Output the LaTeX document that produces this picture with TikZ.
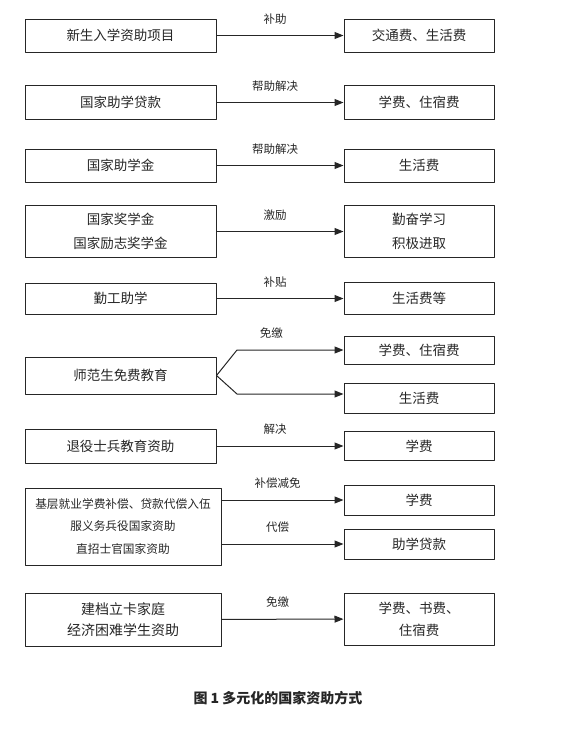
\documentclass[tikz,border=0pt]{standalone}
\usepackage{fontspec}
\setmainfont{Noto Sans CJK SC}
\usepackage{xcolor}
\usepackage{tikz}
\usetikzlibrary{arrows.meta,positioning}
\definecolor{ink}{HTML}{262626}
\tikzset{
    every picture/.style={line cap=round,line join=round},
    srcbox/.style={draw=ink,line width=1pt,minimum width=191pt,inner sep=2pt,
      text=ink,font=\fontsize{13.5}{24}\selectfont,align=center},
    widebox/.style={srcbox,minimum width=196pt},
    dstbox/.style={draw=ink,line width=1pt,minimum width=150pt,inner sep=2pt,
      text=ink,font=\fontsize{13.5}{24}\selectfont,align=center},
    flowarrow/.style={-{Triangle[length=9pt,width=7pt]},draw=ink,line width=1pt},
    edgelabel/.style={above=10pt,xshift=-5pt,inner sep=1pt,text=ink,
      font=\fontsize{11.5}{14}\selectfont}
}

\begin{document}
\begin{tikzpicture}[x=1pt,y=-1pt]
  \useasboundingbox (0,0) rectangle (576,732);
  % one source box, one target box, one arrow per row
  \foreach \n/\yy/\hl/\hr/\src/\lab/\dst in {
      1/35.5/33/33/新生入学资助项目/补助/交通费、生活费,
      2/102.5/34/34/国家助学贷款/帮助解决/学费、住宿费,
      3/165.5/33/33/国家助学金/帮助解决/生活费,
      4/231.5/52/52/{国家奖学金\\国家励志奖学金}/激励/{勤奋学习\\积极进取},
      5/298.5/31/32/勤工助学/补贴/生活费等,
      7/446/34/29/退役士兵教育资助/解决/学费} {
    \node[srcbox,minimum height=\hl pt] (s\n) at (120.5,\yy) {\src};
    \node[dstbox,minimum height=\hr pt] (d\n) at (419,\yy) {\dst};
    \draw[flowarrow] (s\n) -- node[edgelabel] {\lab} (d\n);
  }

  % row 6 splits into two targets
  \node[srcbox,minimum height=37pt] (s6) at (120.5,375.5) {师范生免费教育};
  \node[dstbox,minimum height=28pt] (d6a) at (419,350) {学费、住宿费};
  \node[dstbox,minimum height=30pt] (d6b) at (419,398) {生活费};
  \coordinate (b6a) at (237,350);
  \coordinate (b6b) at (237,394);
  \draw[flowarrow] (s6.east) -- (b6a) -- node[edgelabel,pos=0.37] {免缴} (b6a -| d6a.west);
  \draw[flowarrow] (s6.east) -- (b6b) -- (b6b -| d6b.west);

  % row 8
  \node[widebox,minimum height=77pt,font=\fontsize{11.7}{22.5}\selectfont] (s8) at (123,526.5)
    {基层就业学费补偿、贷款代偿入伍\\服义务兵役国家资助\\直招士官国家资助};
  \node[dstbox,minimum height=30pt] (d8a) at (419,500) {学费};
  \node[dstbox,minimum height=30pt] (d8b) at (419,544) {助学贷款};
  \draw[flowarrow] (s8.east |- d8a) -- node[edgelabel] {补偿减免} (d8a);
  \draw[flowarrow] (s8.east |- d8b) -- node[edgelabel] {代偿} (d8b);

  % row 9
  \node[widebox,minimum height=53pt,font=\fontsize{14}{21.7}\selectfont] (s9) at (123,619.5)
    {建档立卡家庭\\经济困难学生资助};
  \node[dstbox,minimum height=52pt,font=\fontsize{13.5}{21.7}\selectfont] (d9) at (419,619)
    {学费、书费、\\住宿费};
  \draw[flowarrow] (s9) -- node[edgelabel] {免缴} (d9);

  \node[text=ink,font=\fontsize{14}{16}\selectfont\bfseries] (cap) at (278,698)
    {图 1\ 多元化的国家资助方式};
\end{tikzpicture}
\end{document}
